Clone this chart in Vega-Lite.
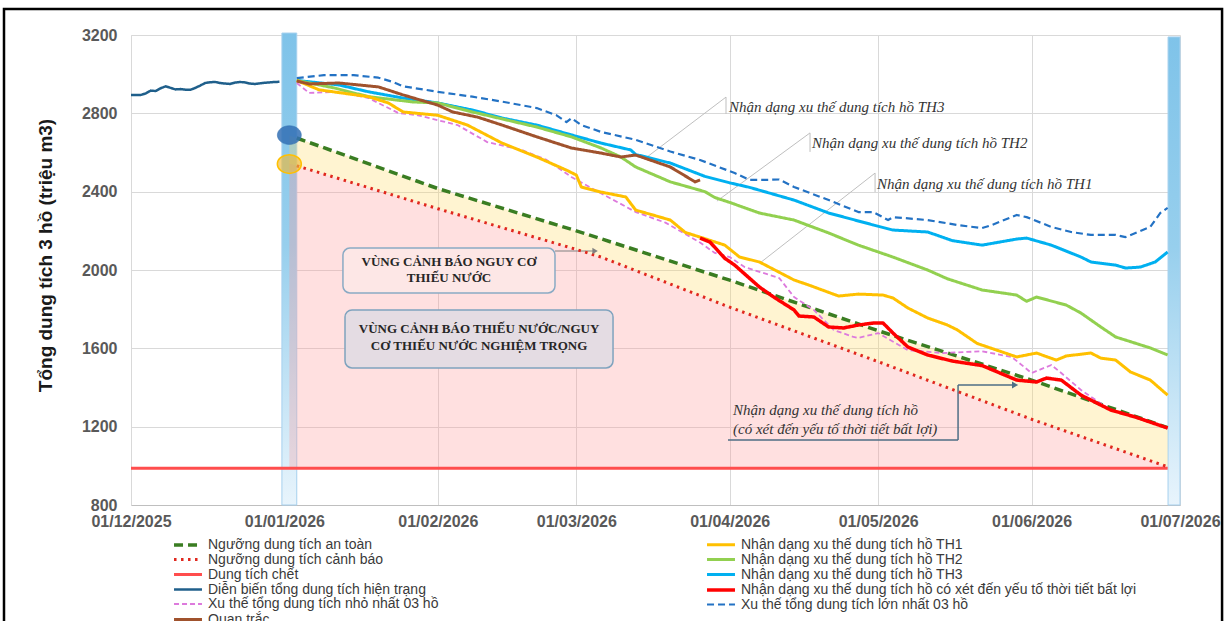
{
  "$schema": "https://vega.github.io/schema/vega-lite/v6.json",
  "width": 1049,
  "height": 470,
  "autosize": {"type": "none"},
  "padding": {"left": 131, "top": 35, "right": 47, "bottom": 116},
  "background": "#FFFFFF",
  "config": {"view": {"stroke": null}, "font": "Liberation Sans"},
  "datasets": {
    "lines": [
      {"s":"DTC","d":"2025-12-01","v":988},
      {"s":"DTC","d":"2026-06-28T12:00:00Z","v":988},
      {"s":"CB","d":"2026-01-03T12:00:00Z","v":2532},
      {"s":"CB","d":"2026-02-01","v":2313},
      {"s":"CB","d":"2026-03-01","v":2105},
      {"s":"CB","d":"2026-03-06","v":2066},
      {"s":"CB","d":"2026-04-01","v":1810},
      {"s":"CB","d":"2026-05-01","v":1532},
      {"s":"CB","d":"2026-06-01","v":1238},
      {"s":"CB","d":"2026-06-28T12:00:00Z","v":995},
      {"s":"AT","d":"2026-01-03T12:00:00Z","v":2674},
      {"s":"AT","d":"2026-02-01","v":2416},
      {"s":"AT","d":"2026-03-01","v":2200},
      {"s":"AT","d":"2026-04-01","v":1948},
      {"s":"AT","d":"2026-05-01","v":1690},
      {"s":"AT","d":"2026-06-01","v":1438},
      {"s":"AT","d":"2026-06-28T12:00:00Z","v":1195},
      {"s":"HT","d":"2025-12-01","v":2894},
      {"s":"HT","d":"2025-12-02","v":2894},
      {"s":"HT","d":"2025-12-03","v":2894},
      {"s":"HT","d":"2025-12-04","v":2902},
      {"s":"HT","d":"2025-12-05","v":2916},
      {"s":"HT","d":"2025-12-06","v":2914},
      {"s":"HT","d":"2025-12-07","v":2928},
      {"s":"HT","d":"2025-12-08","v":2938},
      {"s":"HT","d":"2025-12-09","v":2930},
      {"s":"HT","d":"2025-12-10","v":2922},
      {"s":"HT","d":"2025-12-11","v":2924},
      {"s":"HT","d":"2025-12-12","v":2921},
      {"s":"HT","d":"2025-12-13","v":2920},
      {"s":"HT","d":"2025-12-14","v":2930},
      {"s":"HT","d":"2025-12-15","v":2942},
      {"s":"HT","d":"2025-12-16","v":2955},
      {"s":"HT","d":"2025-12-17","v":2959},
      {"s":"HT","d":"2025-12-18","v":2960},
      {"s":"HT","d":"2025-12-19","v":2955},
      {"s":"HT","d":"2025-12-20","v":2952},
      {"s":"HT","d":"2025-12-21","v":2950},
      {"s":"HT","d":"2025-12-22","v":2957},
      {"s":"HT","d":"2025-12-23","v":2960},
      {"s":"HT","d":"2025-12-24","v":2958},
      {"s":"HT","d":"2025-12-25","v":2952},
      {"s":"HT","d":"2025-12-26","v":2950},
      {"s":"HT","d":"2025-12-27","v":2953},
      {"s":"HT","d":"2025-12-28","v":2956},
      {"s":"HT","d":"2025-12-29","v":2958},
      {"s":"HT","d":"2025-12-30","v":2960},
      {"s":"HT","d":"2025-12-31","v":2961},
      {"s":"MIN","d":"2026-01-03T12:00:00Z","v":2955},
      {"s":"MIN","d":"2026-01-06","v":2904},
      {"s":"MIN","d":"2026-01-12","v":2910},
      {"s":"MIN","d":"2026-01-18","v":2878},
      {"s":"MIN","d":"2026-01-24","v":2802},
      {"s":"MIN","d":"2026-01-28","v":2790},
      {"s":"MIN","d":"2026-02-05","v":2740},
      {"s":"MIN","d":"2026-02-11","v":2653},
      {"s":"MIN","d":"2026-02-18","v":2613},
      {"s":"MIN","d":"2026-02-23","v":2562},
      {"s":"MIN","d":"2026-02-28","v":2475},
      {"s":"MIN","d":"2026-03-04","v":2419},
      {"s":"MIN","d":"2026-03-13","v":2296},
      {"s":"MIN","d":"2026-03-19","v":2242},
      {"s":"MIN","d":"2026-03-26","v":2140},
      {"s":"MIN","d":"2026-03-29","v":2087},
      {"s":"MIN","d":"2026-04-01","v":2066},
      {"s":"MIN","d":"2026-04-04","v":2015},
      {"s":"MIN","d":"2026-04-11","v":1959},
      {"s":"MIN","d":"2026-04-14","v":1862},
      {"s":"MIN","d":"2026-04-18","v":1796},
      {"s":"MIN","d":"2026-04-22","v":1694},
      {"s":"MIN","d":"2026-04-26","v":1658},
      {"s":"MIN","d":"2026-04-27","v":1653},
      {"s":"MIN","d":"2026-05-01","v":1678},
      {"s":"MIN","d":"2026-05-07","v":1591},
      {"s":"MIN","d":"2026-05-14","v":1576},
      {"s":"MIN","d":"2026-05-22","v":1585},
      {"s":"MIN","d":"2026-05-28","v":1556},
      {"s":"MIN","d":"2026-06-01","v":1474},
      {"s":"MIN","d":"2026-06-05","v":1515},
      {"s":"MIN","d":"2026-06-07","v":1474},
      {"s":"MIN","d":"2026-06-11","v":1387},
      {"s":"MIN","d":"2026-06-17","v":1285},
      {"s":"MIN","d":"2026-06-22","v":1249},
      {"s":"MIN","d":"2026-06-28T12:00:00Z","v":1193},
      {"s":"MAX","d":"2026-01-03T12:00:00Z","v":2980},
      {"s":"MAX","d":"2026-01-09","v":2995},
      {"s":"MAX","d":"2026-01-15","v":2995},
      {"s":"MAX","d":"2026-01-20","v":2982},
      {"s":"MAX","d":"2026-01-23","v":2960},
      {"s":"MAX","d":"2026-01-25","v":2938},
      {"s":"MAX","d":"2026-02-01","v":2910},
      {"s":"MAX","d":"2026-02-08","v":2885},
      {"s":"MAX","d":"2026-02-14","v":2860},
      {"s":"MAX","d":"2026-02-21","v":2827},
      {"s":"MAX","d":"2026-02-25","v":2790},
      {"s":"MAX","d":"2026-02-27","v":2755},
      {"s":"MAX","d":"2026-02-28","v":2775},
      {"s":"MAX","d":"2026-03-02","v":2740},
      {"s":"MAX","d":"2026-03-06","v":2705},
      {"s":"MAX","d":"2026-03-13","v":2665},
      {"s":"MAX","d":"2026-03-20","v":2605},
      {"s":"MAX","d":"2026-03-26","v":2562},
      {"s":"MAX","d":"2026-04-02","v":2495},
      {"s":"MAX","d":"2026-04-05","v":2460},
      {"s":"MAX","d":"2026-04-08","v":2460},
      {"s":"MAX","d":"2026-04-11","v":2462},
      {"s":"MAX","d":"2026-04-14","v":2424},
      {"s":"MAX","d":"2026-04-21","v":2357},
      {"s":"MAX","d":"2026-04-27","v":2296},
      {"s":"MAX","d":"2026-04-30","v":2296},
      {"s":"MAX","d":"2026-05-03","v":2255},
      {"s":"MAX","d":"2026-05-04","v":2270},
      {"s":"MAX","d":"2026-05-11","v":2255},
      {"s":"MAX","d":"2026-05-17","v":2230},
      {"s":"MAX","d":"2026-05-22","v":2214},
      {"s":"MAX","d":"2026-05-24","v":2230},
      {"s":"MAX","d":"2026-05-29","v":2281},
      {"s":"MAX","d":"2026-05-31","v":2270},
      {"s":"MAX","d":"2026-06-05","v":2220},
      {"s":"MAX","d":"2026-06-09","v":2194},
      {"s":"MAX","d":"2026-06-13","v":2179},
      {"s":"MAX","d":"2026-06-18","v":2179},
      {"s":"MAX","d":"2026-06-20","v":2168},
      {"s":"MAX","d":"2026-06-25","v":2220},
      {"s":"MAX","d":"2026-06-27","v":2291},
      {"s":"MAX","d":"2026-06-28T12:00:00Z","v":2317},
      {"s":"TH3","d":"2026-01-03T12:00:00Z","v":2968},
      {"s":"TH3","d":"2026-01-12","v":2945},
      {"s":"TH3","d":"2026-01-18","v":2910},
      {"s":"TH3","d":"2026-01-25","v":2878},
      {"s":"TH3","d":"2026-02-01","v":2853},
      {"s":"TH3","d":"2026-02-08","v":2817},
      {"s":"TH3","d":"2026-02-14","v":2776},
      {"s":"TH3","d":"2026-02-21","v":2740},
      {"s":"TH3","d":"2026-02-28","v":2690},
      {"s":"TH3","d":"2026-03-06","v":2648},
      {"s":"TH3","d":"2026-03-12","v":2613},
      {"s":"TH3","d":"2026-03-13","v":2590},
      {"s":"TH3","d":"2026-03-20","v":2546},
      {"s":"TH3","d":"2026-03-27","v":2478},
      {"s":"TH3","d":"2026-04-01","v":2445},
      {"s":"TH3","d":"2026-04-05","v":2422},
      {"s":"TH3","d":"2026-04-14","v":2357},
      {"s":"TH3","d":"2026-04-21","v":2291},
      {"s":"TH3","d":"2026-04-30","v":2230},
      {"s":"TH3","d":"2026-05-04","v":2204},
      {"s":"TH3","d":"2026-05-11","v":2194},
      {"s":"TH3","d":"2026-05-16","v":2150},
      {"s":"TH3","d":"2026-05-22","v":2127},
      {"s":"TH3","d":"2026-05-29","v":2158},
      {"s":"TH3","d":"2026-05-31","v":2163},
      {"s":"TH3","d":"2026-06-05","v":2127},
      {"s":"TH3","d":"2026-06-11","v":2066},
      {"s":"TH3","d":"2026-06-13","v":2041},
      {"s":"TH3","d":"2026-06-18","v":2025},
      {"s":"TH3","d":"2026-06-20","v":2010},
      {"s":"TH3","d":"2026-06-23","v":2015},
      {"s":"TH3","d":"2026-06-26","v":2041},
      {"s":"TH3","d":"2026-06-28T12:00:00Z","v":2092},
      {"s":"TH2","d":"2026-01-03T12:00:00Z","v":2968},
      {"s":"TH2","d":"2026-01-11","v":2930},
      {"s":"TH2","d":"2026-01-18","v":2885},
      {"s":"TH2","d":"2026-01-27","v":2858},
      {"s":"TH2","d":"2026-02-01","v":2853},
      {"s":"TH2","d":"2026-02-08","v":2807},
      {"s":"TH2","d":"2026-02-21","v":2730},
      {"s":"TH2","d":"2026-02-28","v":2680},
      {"s":"TH2","d":"2026-03-06","v":2623},
      {"s":"TH2","d":"2026-03-10","v":2577},
      {"s":"TH2","d":"2026-03-13","v":2526},
      {"s":"TH2","d":"2026-03-20","v":2450},
      {"s":"TH2","d":"2026-03-27","v":2400},
      {"s":"TH2","d":"2026-03-29","v":2370},
      {"s":"TH2","d":"2026-04-01","v":2345},
      {"s":"TH2","d":"2026-04-07","v":2291},
      {"s":"TH2","d":"2026-04-14","v":2255},
      {"s":"TH2","d":"2026-04-21","v":2189},
      {"s":"TH2","d":"2026-04-27","v":2127},
      {"s":"TH2","d":"2026-05-04","v":2066},
      {"s":"TH2","d":"2026-05-11","v":2000},
      {"s":"TH2","d":"2026-05-15","v":1955},
      {"s":"TH2","d":"2026-05-22","v":1898},
      {"s":"TH2","d":"2026-05-29","v":1872},
      {"s":"TH2","d":"2026-05-31","v":1840},
      {"s":"TH2","d":"2026-06-02","v":1862},
      {"s":"TH2","d":"2026-06-08","v":1821},
      {"s":"TH2","d":"2026-06-11","v":1780},
      {"s":"TH2","d":"2026-06-15","v":1709},
      {"s":"TH2","d":"2026-06-18","v":1658},
      {"s":"TH2","d":"2026-06-25","v":1602},
      {"s":"TH2","d":"2026-06-28T12:00:00Z","v":1566},
      {"s":"TH1","d":"2026-01-03T12:00:00Z","v":2968},
      {"s":"TH1","d":"2026-01-08","v":2920},
      {"s":"TH1","d":"2026-01-18","v":2885},
      {"s":"TH1","d":"2026-01-22","v":2853},
      {"s":"TH1","d":"2026-01-25","v":2807},
      {"s":"TH1","d":"2026-02-01","v":2790},
      {"s":"TH1","d":"2026-02-07","v":2740},
      {"s":"TH1","d":"2026-02-14","v":2648},
      {"s":"TH1","d":"2026-02-21","v":2577},
      {"s":"TH1","d":"2026-02-27","v":2510},
      {"s":"TH1","d":"2026-03-01","v":2485},
      {"s":"TH1","d":"2026-03-02","v":2424},
      {"s":"TH1","d":"2026-03-06","v":2398},
      {"s":"TH1","d":"2026-03-11","v":2373},
      {"s":"TH1","d":"2026-03-13","v":2306},
      {"s":"TH1","d":"2026-03-20","v":2255},
      {"s":"TH1","d":"2026-03-23","v":2192},
      {"s":"TH1","d":"2026-03-26","v":2168},
      {"s":"TH1","d":"2026-03-31","v":2127},
      {"s":"TH1","d":"2026-04-03","v":2066},
      {"s":"TH1","d":"2026-04-07","v":2041},
      {"s":"TH1","d":"2026-04-14","v":1949},
      {"s":"TH1","d":"2026-04-17","v":1923},
      {"s":"TH1","d":"2026-04-23","v":1867},
      {"s":"TH1","d":"2026-04-27","v":1877},
      {"s":"TH1","d":"2026-05-02","v":1872},
      {"s":"TH1","d":"2026-05-04","v":1857},
      {"s":"TH1","d":"2026-05-07","v":1806},
      {"s":"TH1","d":"2026-05-11","v":1755},
      {"s":"TH1","d":"2026-05-15","v":1719},
      {"s":"TH1","d":"2026-05-17","v":1694},
      {"s":"TH1","d":"2026-05-21","v":1625},
      {"s":"TH1","d":"2026-05-29","v":1556},
      {"s":"TH1","d":"2026-06-02","v":1576},
      {"s":"TH1","d":"2026-06-06","v":1540},
      {"s":"TH1","d":"2026-06-08","v":1561},
      {"s":"TH1","d":"2026-06-13","v":1576},
      {"s":"TH1","d":"2026-06-15","v":1550},
      {"s":"TH1","d":"2026-06-18","v":1540},
      {"s":"TH1","d":"2026-06-21","v":1479},
      {"s":"TH1","d":"2026-06-25","v":1438},
      {"s":"TH1","d":"2026-06-28T12:00:00Z","v":1361},
      {"s":"QT","d":"2026-01-03T12:00:00Z","v":2965},
      {"s":"QT","d":"2026-01-06","v":2950},
      {"s":"QT","d":"2026-01-12","v":2955},
      {"s":"QT","d":"2026-01-20","v":2935},
      {"s":"QT","d":"2026-01-25","v":2894},
      {"s":"QT","d":"2026-02-01","v":2842},
      {"s":"QT","d":"2026-02-04","v":2807},
      {"s":"QT","d":"2026-02-09","v":2781},
      {"s":"QT","d":"2026-02-14","v":2740},
      {"s":"QT","d":"2026-02-21","v":2680},
      {"s":"QT","d":"2026-02-28","v":2623},
      {"s":"QT","d":"2026-03-06","v":2597},
      {"s":"QT","d":"2026-03-10","v":2577},
      {"s":"QT","d":"2026-03-13","v":2587},
      {"s":"QT","d":"2026-03-20","v":2526},
      {"s":"QT","d":"2026-03-25","v":2450},
      {"s":"QT","d":"2026-03-26","v":2460},
      {"s":"BL","d":"2026-03-26","v":2163},
      {"s":"BL","d":"2026-03-28","v":2143},
      {"s":"BL","d":"2026-03-31","v":2060},
      {"s":"BL","d":"2026-04-02","v":2025},
      {"s":"BL","d":"2026-04-07","v":1913},
      {"s":"BL","d":"2026-04-10","v":1860},
      {"s":"BL","d":"2026-04-14","v":1796},
      {"s":"BL","d":"2026-04-15","v":1765},
      {"s":"BL","d":"2026-04-18","v":1760},
      {"s":"BL","d":"2026-04-21","v":1709},
      {"s":"BL","d":"2026-04-24","v":1704},
      {"s":"BL","d":"2026-04-27","v":1719},
      {"s":"BL","d":"2026-04-30","v":1729},
      {"s":"BL","d":"2026-05-02","v":1729},
      {"s":"BL","d":"2026-05-04","v":1678},
      {"s":"BL","d":"2026-05-07","v":1607},
      {"s":"BL","d":"2026-05-11","v":1566},
      {"s":"BL","d":"2026-05-16","v":1535},
      {"s":"BL","d":"2026-05-22","v":1512},
      {"s":"BL","d":"2026-05-29","v":1438},
      {"s":"BL","d":"2026-06-02","v":1428},
      {"s":"BL","d":"2026-06-04","v":1448},
      {"s":"BL","d":"2026-06-07","v":1438},
      {"s":"BL","d":"2026-06-11","v":1361},
      {"s":"BL","d":"2026-06-17","v":1285},
      {"s":"BL","d":"2026-06-22","v":1249},
      {"s":"BL","d":"2026-06-28T12:00:00Z","v":1193}
    ],
    "zones": [
      {"d":"2026-01-02","lo":988,"mid":2544,"hi":2687},
      {"d":"2026-01-03T12:00:00Z","lo":988,"mid":2532,"hi":2674},
      {"d":"2026-02-01","lo":988,"mid":2313,"hi":2416},
      {"d":"2026-03-01","lo":988,"mid":2105,"hi":2200},
      {"d":"2026-03-06","lo":988,"mid":2066,"hi":2159},
      {"d":"2026-04-01","lo":988,"mid":1810,"hi":1948},
      {"d":"2026-05-01","lo":988,"mid":1532,"hi":1690},
      {"d":"2026-06-01","lo":988,"mid":1238,"hi":1438},
      {"d":"2026-06-28T12:00:00Z","lo":988,"mid":995,"hi":1195}
    ]
  },
  "encoding": {
    "x": {
      "field": "d", "type": "temporal",
      "scale": {"type": "utc", "domain": [{"year": 2025, "month": 12, "date": 1, "utc": true}, {"year": 2026, "month": 7, "date": 1, "utc": true}], "nice": false},
      "axis": {
        "title": null, "format": "%d/%m/%Y",
        "values": [
          {"year": 2025, "month": 12, "date": 1, "utc": true},
          {"year": 2026, "month": 1, "date": 1, "utc": true},
          {"year": 2026, "month": 2, "date": 1, "utc": true},
          {"year": 2026, "month": 3, "date": 1, "utc": true},
          {"year": 2026, "month": 4, "date": 1, "utc": true},
          {"year": 2026, "month": 5, "date": 1, "utc": true},
          {"year": 2026, "month": 6, "date": 1, "utc": true},
          {"year": 2026, "month": 7, "date": 1, "utc": true}
        ],
        "labelFont": "Liberation Sans", "labelFontSize": 16, "labelFontWeight": "bold", "labelColor": "#595959",
        "labelPadding": 8, "tickSize": 0, "domainColor": "#BFBFBF", "grid": true, "gridColor": "#D9D9D9",
        "labelFlush": false, "labelOverlap": false
      }
    },
    "y": {
      "field": "v", "type": "quantitative",
      "scale": {"domain": [800, 3200], "nice": false, "zero": false},
      "axis": {
        "title": "Tổng dung tích 3 hồ (triệu m3)", "values": [800, 1200, 1600, 2000, 2400, 2800, 3200], "format": "d",
        "labelFont": "Liberation Sans", "labelFontSize": 16, "labelFontWeight": "bold", "labelColor": "#595959",
        "labelPadding": 14, "tickSize": 0, "domainColor": "#D9D9D9", "grid": true, "gridColor": "#D9D9D9",
        "titleFont": "Liberation Sans", "titleFontSize": 19, "titleFontWeight": "bold", "titleColor": "#1A1A1A", "titlePadding": 26, "titleY": 220
      }
    }
  },
  "layer": [
    {
      "data": {"values": [{"d": "2025-11-05T08:00:00Z", "d2": "2026-07-09T12:00:00Z", "v": 3333, "v2": 100}]},
      "mark": {"type": "rect", "fill": "transparent", "stroke": "#000000", "strokeWidth": 2.5},
      "encoding": {"x2": {"field": "d2"}, "y2": {"field": "v2"}}
    },
    {
      "data": {"values": [
        {"d": "2025-12-31T12:00:00Z", "d2": "2026-01-03T12:00:00Z", "v": 800, "v2": 3210},
        {"d": "2026-06-28T14:00:00Z", "d2": "2026-07-01T00:00:00Z", "v": 800, "v2": 3190}
      ]},
      "mark": {
        "type": "rect", "stroke": "#A6D0EE", "strokeWidth": 1,
        "fill": {"gradient": "linear", "x1": 0, "y1": 0, "x2": 0, "y2": 1, "stops": [
          {"offset": 0, "color": "#7FC3E9"}, {"offset": 0.45, "color": "#97CFED"}, {"offset": 1, "color": "#E8F4FC"}
        ]}
      },
      "encoding": {"x2": {"field": "d2"}, "y2": {"field": "v2"}}
    },
    {
      "data": {"name": "zones"},
      "mark": {"type": "area", "color": "#FF9999", "opacity": 0.3},
      "encoding": {"y": {"field": "lo", "type": "quantitative"}, "y2": {"field": "mid"}}
    },
    {
      "data": {"name": "zones"},
      "mark": {"type": "area", "color": "#FFD966", "opacity": 0.3},
      "encoding": {"y": {"field": "mid", "type": "quantitative"}, "y2": {"field": "hi"}}
    },
    {
      "data": {"values": [
        {"d": "2026-03-31T06:00:00Z", "v": 2883, "d2": "2026-03-31T06:00:00Z", "v2": 2797},
        {"d": "2026-03-31T06:00:00Z", "v": 2883, "d2": "2026-03-15T07:00:00Z", "v2": 2577},
        {"d": "2026-04-17T05:30:00Z", "v": 2700, "d2": "2026-04-17T05:30:00Z", "v2": 2603},
        {"d": "2026-04-17T05:30:00Z", "v": 2700, "d2": "2026-03-29T10:00:00Z", "v2": 2352},
        {"d": "2026-04-30T09:00:00Z", "v": 2495, "d2": "2026-04-30T09:00:00Z", "v2": 2398},
        {"d": "2026-04-30T09:00:00Z", "v": 2495, "d2": "2026-04-07T03:00:00Z", "v2": 2036}
      ]},
      "mark": {"type": "rule", "color": "#BFBFBF", "strokeWidth": 1},
      "encoding": {"x2": {"field": "d2"}, "y2": {"field": "v2"}}
    },
    {
      "data": {"values": [{"d": "2026-01-12T20:00:00Z", "d2": "2026-02-24T16:30:00Z", "v": 2112, "v2": 1883}]},
      "mark": {"type": "rect", "fill": "#FDE7E6", "stroke": "#8AAAC4", "strokeWidth": 1.5, "cornerRadius": 7},
      "encoding": {"x2": {"field": "d2"}, "y2": {"field": "v2"}}
    },
    {
      "data": {"values": [{"d": "2026-01-13T06:00:00Z", "d2": "2026-03-08T10:00:00Z", "v": 1796, "v2": 1500}]},
      "mark": {"type": "rect", "fill": "#E4DCE3", "stroke": "#7FA3BE", "strokeWidth": 1.5, "cornerRadius": 7},
      "encoding": {"x2": {"field": "d2"}, "y2": {"field": "v2"}}
    },
    {
      "data": {"values": [{"d": "2026-02-24T16:30:00Z", "v": 2097, "d2": "2026-03-04T19:00:00Z", "v2": 2097}]},
      "mark": {"type": "rule", "color": "#808080", "strokeWidth": 1},
      "encoding": {"x2": {"field": "d2"}, "y2": {"field": "v2"}}
    },
    {
      "data": {"values": [
        {"d": "2026-03-31T15:30:00Z", "v": 1132, "d2": "2026-05-17T03:30:00Z", "v2": 1132},
        {"d": "2026-05-17T03:30:00Z", "v": 1132, "d2": "2026-05-17T03:30:00Z", "v2": 1413},
        {"d": "2026-05-17T03:30:00Z", "v": 1413, "d2": "2026-05-28T16:00:00Z", "v2": 1413}
      ]},
      "mark": {"type": "rule", "color": "#4E6E85", "strokeWidth": 1.5},
      "encoding": {"x2": {"field": "d2"}, "y2": {"field": "v2"}}
    },
    {
      "data": {"name": "lines"},
      "mark": {"type": "line", "strokeCap": "butt", "strokeJoin": "round"},
      "encoding": {
        "color": {
          "field": "s", "type": "nominal",
          "scale": {
            "domain": ["AT","CB","DTC","HT","MIN","QT","TH1","TH2","TH3","BL","MAX"],
            "range": ["#3A7D22","#E0281E","#FF4D4D","#1F5F8B","#DD7ADD","#A0522D","#FFC000","#92D050","#00B0F0","#FF0000","#2372C4"]
          },
          "legend": {
            "title": null, "orient": "none", "legendX": 49, "legendY": 502, "columns": 2, "columnPadding": 261, "rowPadding": -0.4,
            "labelFont": "Liberation Sans", "labelFontSize": 14, "labelColor": "#3A3A3A", "labelLimit": 700, "labelOffset": 12,
            "symbolType": "M -2.33 0 L 2.33 0", "symbolSize": 144, "padding": 0,
            "labelExpr": "datum.label == 'AT' ? 'Ngưỡng dung tích an toàn' : datum.label == 'CB' ? 'Ngưỡng dung tích cảnh báo' : datum.label == 'DTC' ? 'Dung tích chết' : datum.label == 'HT' ? 'Diễn biến tổng dung tích hiện trạng' : datum.label == 'MIN' ? 'Xu thế tổng dung tích nhỏ nhất 03 hồ' : datum.label == 'QT' ? 'Quan trắc' : datum.label == 'TH1' ? 'Nhận dạng xu thế dung tích hồ TH1' : datum.label == 'TH2' ? 'Nhận dạng xu thế dung tích hồ TH2' : datum.label == 'TH3' ? 'Nhận dạng xu thế dung tích hồ TH3' : datum.label == 'BL' ? 'Nhận dạng xu thế dung tích hồ có xét đến yếu tố thời tiết bất lợi' : 'Xu thế tổng dung tích lớn nhất 03 hồ'"
          }
        },
        "strokeDash": {
          "field": "s", "type": "nominal",
          "scale": {
            "domain": ["AT","CB","DTC","HT","MIN","QT","TH1","TH2","TH3","BL","MAX"],
            "range": [[9,5],[2.5,4.5],[1,0],[1,0],[5,3],[1,0],[1,0],[1,0],[1,0],[1,0],[7,4]]
          },
          "legend": {
            "title": null, "orient": "none", "legendX": 49, "legendY": 502, "columns": 2, "columnPadding": 261, "rowPadding": -0.4,
            "labelFont": "Liberation Sans", "labelFontSize": 14, "labelColor": "#3A3A3A", "labelLimit": 700, "labelOffset": 12,
            "symbolType": "M -2.33 0 L 2.33 0", "symbolSize": 144, "padding": 0,
            "labelExpr": "datum.label == 'AT' ? 'Ngưỡng dung tích an toàn' : datum.label == 'CB' ? 'Ngưỡng dung tích cảnh báo' : datum.label == 'DTC' ? 'Dung tích chết' : datum.label == 'HT' ? 'Diễn biến tổng dung tích hiện trạng' : datum.label == 'MIN' ? 'Xu thế tổng dung tích nhỏ nhất 03 hồ' : datum.label == 'QT' ? 'Quan trắc' : datum.label == 'TH1' ? 'Nhận dạng xu thế dung tích hồ TH1' : datum.label == 'TH2' ? 'Nhận dạng xu thế dung tích hồ TH2' : datum.label == 'TH3' ? 'Nhận dạng xu thế dung tích hồ TH3' : datum.label == 'BL' ? 'Nhận dạng xu thế dung tích hồ có xét đến yếu tố thời tiết bất lợi' : 'Xu thế tổng dung tích lớn nhất 03 hồ'"
          }
        },
        "strokeWidth": {
          "field": "s", "type": "nominal",
          "scale": {
            "type": "ordinal",
            "domain": ["AT","CB","DTC","HT","MIN","QT","TH1","TH2","TH3","BL","MAX"],
            "range": [3.5,3,3,2.5,1.8,3,3,3,3,3.5,2.2]
          },
          "legend": {
            "title": null, "orient": "none", "legendX": 49, "legendY": 502, "columns": 2, "columnPadding": 261, "rowPadding": -0.4,
            "labelFont": "Liberation Sans", "labelFontSize": 14, "labelColor": "#3A3A3A", "labelLimit": 700, "labelOffset": 12,
            "symbolType": "M -2.33 0 L 2.33 0", "symbolSize": 144, "padding": 0,
            "labelExpr": "datum.label == 'AT' ? 'Ngưỡng dung tích an toàn' : datum.label == 'CB' ? 'Ngưỡng dung tích cảnh báo' : datum.label == 'DTC' ? 'Dung tích chết' : datum.label == 'HT' ? 'Diễn biến tổng dung tích hiện trạng' : datum.label == 'MIN' ? 'Xu thế tổng dung tích nhỏ nhất 03 hồ' : datum.label == 'QT' ? 'Quan trắc' : datum.label == 'TH1' ? 'Nhận dạng xu thế dung tích hồ TH1' : datum.label == 'TH2' ? 'Nhận dạng xu thế dung tích hồ TH2' : datum.label == 'TH3' ? 'Nhận dạng xu thế dung tích hồ TH3' : datum.label == 'BL' ? 'Nhận dạng xu thế dung tích hồ có xét đến yếu tố thời tiết bất lợi' : 'Xu thế tổng dung tích lớn nhất 03 hồ'"
          }
        }
      }
    },
    {
      "data": {"values": [{"d": "2026-01-02", "v": 2689}]},
      "mark": {"type": "point", "shape": "M -1 0 C -1 -0.43 -0.552 -0.78 0 -0.78 C 0.552 -0.78 1 -0.43 1 0 C 1 0.43 0.552 0.78 0 0.78 C -0.552 0.78 -1 0.43 -1 0 Z", "size": 576, "filled": true, "fill": "#3270B5", "fillOpacity": 0.85, "stroke": "#2F6DAF", "strokeWidth": 0.5}
    },
    {
      "data": {"values": [{"d": "2026-01-02", "v": 2541}]},
      "mark": {"type": "point", "shape": "M -1 0 C -1 -0.43 -0.552 -0.78 0 -0.78 C 0.552 -0.78 1 -0.43 1 0 C 1 0.43 0.552 0.78 0 0.78 C -0.552 0.78 -1 0.43 -1 0 Z", "size": 576, "filled": true, "fill": "#EDB83A", "fillOpacity": 0.65, "stroke": "#FFC000", "strokeWidth": 1.5, "strokeOpacity": 1}
    },
    {
      "data": {"values": [{"d": "2026-03-04T19:00:00Z", "v": 2097}]},
      "mark": {"type": "point", "shape": "triangle-right", "size": 40, "filled": true, "color": "#808080", "opacity": 1}
    },
    {
      "data": {"values": [{"d": "2026-05-28T16:00:00Z", "v": 1413}]},
      "mark": {"type": "point", "shape": "triangle-right", "size": 50, "filled": true, "color": "#4E6E85", "opacity": 1}
    },
    {
      "data": {"values": [
        {"d": "2026-03-31T20:30:00Z", "v": 2832, "t": "Nhận dạng xu thế dung tích hồ TH3"},
        {"d": "2026-04-17T15:00:00Z", "v": 2649, "t": "Nhận dạng xu thế dung tích hồ TH2"},
        {"d": "2026-04-30T18:30:00Z", "v": 2439, "t": "Nhận dạng xu thế dung tích hồ TH1"},
        {"d": "2026-04-01T16:00:00Z", "v": 1285, "t": "Nhận dạng xu thế dung tích hồ"},
        {"d": "2026-04-01T16:00:00Z", "v": 1188, "t": "(có xét đến yếu tố thời tiết bất lợi)"}
      ]},
      "mark": {"type": "text", "font": "Liberation Serif", "fontStyle": "italic", "fontSize": 15, "color": "#333333", "align": "left", "baseline": "middle"},
      "encoding": {"text": {"field": "t"}}
    },
    {
      "data": {"values": [
        {"d": "2026-02-03T06:30:00Z", "v": 2040, "t": "VÙNG CẢNH BÁO NGUY CƠ"},
        {"d": "2026-02-03T06:30:00Z", "v": 1960, "t": "THIẾU NƯỚC"},
        {"d": "2026-02-09T08:00:00Z", "v": 1697, "t": "VÙNG CẢNH BÁO THIẾU NƯỚC/NGUY"},
        {"d": "2026-02-09T08:00:00Z", "v": 1612, "t": "CƠ THIẾU NƯỚC NGHIỆM TRỌNG"}
      ]},
      "mark": {"type": "text", "font": "Liberation Serif", "fontWeight": "bold", "fontSize": 13, "color": "#262626", "align": "center", "baseline": "middle"},
      "encoding": {"text": {"field": "t"}}
    }
  ]
}
